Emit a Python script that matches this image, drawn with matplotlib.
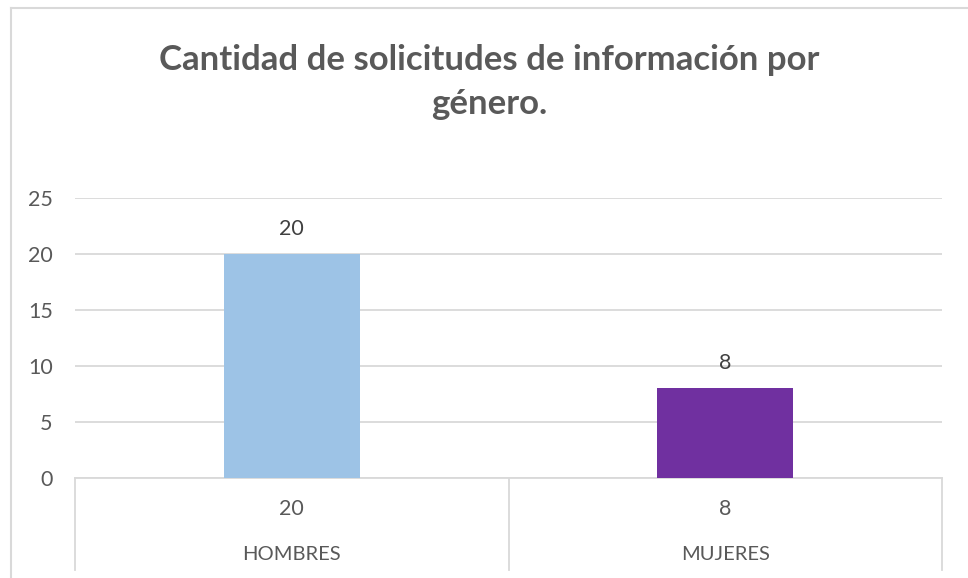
import matplotlib
matplotlib.use("Agg")
import matplotlib.pyplot as plt
from matplotlib.lines import Line2D

categories = ["HOMBRES", "MUJERES"]
values = [20, 8]
colors = ["#9DC3E6", "#7030A0"]
yticks = [0, 5, 10, 15, 20, 25]
title = "Cantidad de solicitudes de información por\ngénero."

plt.rcParams['font.family'] = ['Lato', 'DejaVu Sans']

W, H = 968, 578
fig = plt.figure(figsize=(W / 100, H / 100), dpi=100)
fig.patch.set_facecolor("white")

# plot area in pixel coords
L, R, T, B = 75, 942, 198, 478
ax = fig.add_axes([L / W, (H - B) / H, (R - L) / W, (B - T) / H])

x = list(range(len(categories)))
ax.bar(x, values, width=0.314, color=colors, zorder=3)
ax.set_xlim(-0.5, len(categories) - 0.5)
ax.set_ylim(0, 25)
ax.set_yticks(yticks)
ax.set_yticklabels([str(t) for t in yticks], fontsize=15.5, color="#595959")
ax.tick_params(axis="y", length=0, pad=16)
ax.set_xticks([])
ax.grid(axis="y", color="#D9D9D9", linewidth=1.3, zorder=0)
for s in ["top", "right", "left"]:
    ax.spines[s].set_visible(False)
ax.spines["bottom"].set_color("#D9D9D9")
ax.spines["bottom"].set_linewidth(1.3)

# data labels
for xi, v in zip(x, values):
    ax.annotate(str(v), (xi, v), xytext=(0, 18), textcoords="offset points",
                ha="center", va="center", fontsize=15.5, color="#404040")

# data table below axis
h = B - T
trans = ax.get_xaxis_transform()
bottom_y = -(570 - B) / h
for b in [i - 0.5 for i in range(len(categories) + 1)]:
    ax.add_line(Line2D([b, b], [0, bottom_y], transform=trans, color="#D9D9D9",
                       linewidth=1.3, clip_on=False))
for xi, v, c in zip(x, values, categories):
    ax.text(xi, -(509 - B) / h, str(v), transform=trans, ha="center", va="center",
            fontsize=15.5, color="#595959")
    ax.text(xi, -(554 - B) / h, c, transform=trans, ha="center", va="center",
            fontsize=14.5, color="#595959")

# chart frame
fig.add_artist(Line2D([11 / W, 11 / W], [0, (H - 8) / H], color="#D9D9D9", linewidth=1.5))
fig.add_artist(Line2D([11 / W, 1], [(H - 8) / H, (H - 8) / H], color="#D9D9D9", linewidth=1.5))

fig.text(489 / W, (H - 82) / H, title, ha="center", va="center", fontsize=25,
         fontweight="bold", color="#595959", linespacing=1.45)

fig.savefig("out.png", dpi=100, facecolor="white")
